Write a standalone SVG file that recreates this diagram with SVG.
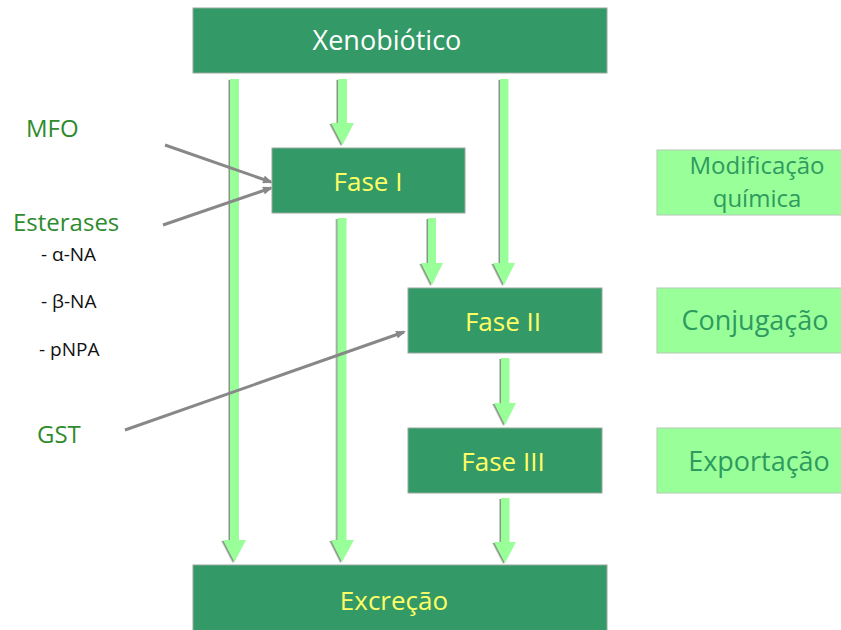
<svg xmlns="http://www.w3.org/2000/svg" width="841" height="630" viewBox="0 0 841 630">
<defs>
<style>
.dark{fill:#339966;stroke:#9aa89f;stroke-width:1}
.light{fill:#99ff99;stroke:#b5c8b5;stroke-width:1}
.flow{fill:#99ff99;filter:url(#sh)}
.wt{font-family:"Open Sans",sans-serif;font-size:27px;fill:#ffffff;text-anchor:middle}
.yt{font-family:"Open Sans",sans-serif;font-size:26px;fill:#ffff66;text-anchor:middle}
.gt{font-family:"Open Sans",sans-serif;font-size:27px;fill:#2e9a5e;text-anchor:middle}
.gt2{font-family:"Open Sans",sans-serif;font-size:24px;fill:#2e9a5e;text-anchor:middle}
.lbl{font-family:"Open Sans",sans-serif;font-size:24px;fill:#2e8b2e}
.sub{font-family:"Open Sans",sans-serif;font-size:19px;fill:#111111}
.ptr{stroke:#888888;stroke-width:3;fill:none;marker-end:url(#ah)}
</style>
<filter id="sh" x="-50%" y="-10%" width="200%" height="120%">
<feDropShadow dx="-1.5" dy="1" stdDeviation="0.6" flood-color="#7a8a7a" flood-opacity="0.9"/>
</filter>
<marker id="ah" markerWidth="10" markerHeight="8" refX="8" refY="4" orient="auto" markerUnits="userSpaceOnUse">
<path d="M0,0 L10,4 L0,8 Z" fill="#888888"/>
</marker>
</defs>
<rect width="841" height="630" fill="#ffffff"/>

<g id="connectors">
<polygon class="flow" points="230,79 239,79 239,540 246,540 234.5,562 223,540 230,540"/>
<polygon class="flow" points="338,79 347,79 347,123 354,123 342.5,145 331,123 338,123"/>
<polygon class="flow" points="500,79 508.5,79 508.5,263 515,263 504,285 493,263 500,263"/>
<polygon class="flow" points="428,218 436,218 436,263 443,263 432,285 421,263 428,263"/>
<polygon class="flow" points="337.5,218 346.5,218 346.5,540 354,540 342,562 331,540 337.5,540"/>
<polygon class="flow" points="501,358 509.5,358 509.5,403 516,403 505,425 494,403 501,403"/>
<polygon class="flow" points="501,498 509.5,498 509.5,542 516,542 505,563 494,542 501,542"/>
<line class="ptr" x1="165" y1="145" x2="271" y2="182"/>
<line class="ptr" x1="163" y1="225" x2="271" y2="188"/>
<line class="ptr" x1="125" y1="430" x2="404" y2="332"/>
</g>

<g id="xenobiotico">
<rect class="dark" x="193" y="8" width="414" height="65"/>
<text class="wt" x="387" y="50">Xenobiótico</text>
</g>
<g id="fase1">
<rect class="dark" x="272" y="148" width="193" height="65"/>
<text class="yt" x="368" y="191">Fase I</text>
</g>
<g id="fase2">
<rect class="dark" x="408" y="288" width="194" height="65"/>
<text class="yt" x="503" y="331">Fase II</text>
</g>
<g id="fase3">
<rect class="dark" x="408" y="428" width="194" height="65"/>
<text class="yt" x="503" y="471">Fase III</text>
</g>
<g id="excrecao">
<rect class="dark" x="193" y="565" width="414" height="70"/>
<text class="yt" x="394" y="610">Excreção</text>
</g>

<g id="modificacao">
<rect class="light" x="657" y="150" width="190" height="65"/>
<text class="gt2" x="757" y="174">Modificação</text>
<text class="gt2" x="757" y="207">química</text>
</g>
<g id="conjugacao">
<rect class="light" x="657" y="288" width="190" height="65"/>
<text class="gt" x="755" y="330">Conjugação</text>
</g>
<g id="exportacao">
<rect class="light" x="657" y="428" width="190" height="65"/>
<text class="gt" x="759" y="471">Exportação</text>
</g>

<g id="mfo"><text class="lbl" x="26" y="137">MFO</text></g>
<g id="esterases">
<text class="lbl" x="13" y="231">Esterases</text>
<text class="sub" x="41" y="261">- α-NA</text>
<text class="sub" x="41" y="308">- β-NA</text>
<text class="sub" x="39" y="356">- pNPA</text>
</g>
<g id="gst"><text class="lbl" x="37" y="443">GST</text></g>
</svg>
